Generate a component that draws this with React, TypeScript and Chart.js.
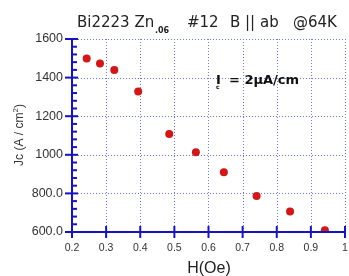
import React, { useEffect, useRef } from "react";
import { Chart, registerables } from "chart.js";

Chart.register(...registerables);

// Data
const fieldH = [0.243, 0.282, 0.324, 0.394, 0.485, 0.563, 0.645, 0.741, 0.839, 0.941];
const jcValues = [1499, 1473, 1440, 1328, 1108, 1013, 910, 787, 706, 609];
const xTickValues = [0.2, 0.3, 0.4, 0.5, 0.6, 0.7, 0.8, 0.9, 1.0];
const xTickLabels = ["0.2", "0.3", "0.4", "0.5", "0.6", "0.7", "0.8", "0.9", "1"];
const yTickValues = [600, 800, 1000, 1200, 1400, 1600];
const yTickLabels = ["600.0", "800.0", "1000", "1200", "1400", "1600"];
const yMinorStep = 40;

const AXIS_BLUE = "#1414c4";
const GRID_BLUE = "#6a78dc";
const TEXT = "#333333";
const DOT_RED = "#d41616";

const decorPlugin = {
  id: "decor",
  beforeDatasetsDraw(chart: any) {
    const { ctx, chartArea, scales } = chart;
    const xs = scales.x;
    const ys = scales.y;
    ctx.save();
    ctx.strokeStyle = GRID_BLUE;
    ctx.lineWidth = 1;
    ctx.setLineDash([1, 2]);
    xTickValues.forEach((v) => {
      const px = Math.round(xs.getPixelForValue(v)) + 0.5;
      ctx.beginPath();
      ctx.moveTo(px, chartArea.top);
      ctx.lineTo(px, chartArea.bottom);
      ctx.stroke();
    });
    yTickValues.forEach((v) => {
      const py = Math.round(ys.getPixelForValue(v)) + 0.5;
      ctx.beginPath();
      ctx.moveTo(chartArea.left, py);
      ctx.lineTo(chartArea.right, py);
      ctx.stroke();
    });
    ctx.restore();
  },
  afterDraw(chart: any) {
    const { ctx, chartArea, scales } = chart;
    const xs = scales.x;
    const ys = scales.y;
    const left = chartArea.left;
    const bottom = chartArea.bottom;
    ctx.save();
    ctx.setLineDash([]);
    ctx.strokeStyle = AXIS_BLUE;
    ctx.lineWidth = 2;
    // axes
    ctx.beginPath();
    ctx.moveTo(left, chartArea.top);
    ctx.lineTo(left, bottom);
    ctx.moveTo(left, bottom);
    ctx.lineTo(chartArea.right, bottom);
    ctx.stroke();
    // y major ticks
    yTickValues.forEach((v) => {
      const py = ys.getPixelForValue(v);
      ctx.beginPath();
      ctx.moveTo(left - 7, py);
      ctx.lineTo(left + 6, py);
      ctx.stroke();
    });
    // y minor ticks
    for (let v = ys.min; v <= ys.max; v += yMinorStep) {
      if (v % 200 === 0) continue;
      const py = ys.getPixelForValue(v);
      ctx.beginPath();
      ctx.moveTo(left, py);
      ctx.lineTo(left + 5, py);
      ctx.stroke();
    }
    // x major ticks
    xTickValues.forEach((v) => {
      const px = xs.getPixelForValue(v);
      ctx.beginPath();
      ctx.moveTo(px, bottom - 6);
      ctx.lineTo(px, bottom + 6);
      ctx.stroke();
    });

    // tick labels
    ctx.fillStyle = TEXT;
    ctx.font = "12.5px 'Liberation Sans', Arial, sans-serif";
    ctx.textAlign = "right";
    ctx.textBaseline = "middle";
    yTickValues.forEach((v, i) => {
      ctx.fillText(yTickLabels[i], left - 9, ys.getPixelForValue(v));
    });
    ctx.font = "10.5px 'Liberation Sans', Arial, sans-serif";
    ctx.textAlign = "center";
    xTickValues.forEach((v, i) => {
      ctx.fillText(xTickLabels[i], xs.getPixelForValue(v), bottom + 16);
    });

    // x title
    ctx.fillStyle = "#222";
    ctx.font = "16px 'Liberation Sans', Arial, sans-serif";
    ctx.textBaseline = "alphabetic";
    ctx.textAlign = "center";
    ctx.fillText("H(Oe)", 209, 273);

    // y title (rotated) with superscript
    ctx.save();
    ctx.translate(23, 135);
    ctx.rotate(-Math.PI / 2);
    ctx.fillStyle = TEXT;
    const f1 = "12px 'Liberation Sans', Arial, sans-serif";
    const f2 = "8px 'Liberation Sans', Arial, sans-serif";
    ctx.font = f1;
    const a = "Jc (A / cm";
    const wa = ctx.measureText(a).width;
    ctx.font = f2;
    const wb = ctx.measureText("2").width;
    ctx.font = f1;
    const wc = ctx.measureText(")").width;
    let x0 = -(wa + wb + wc) / 2;
    ctx.textAlign = "left";
    ctx.fillText(a, x0, 0);
    ctx.font = f2;
    ctx.fillText("2", x0 + wa, -5);
    ctx.font = f1;
    ctx.fillText(")", x0 + wa + wb, 0);
    ctx.restore();

    // chart title with subscript
    ctx.fillStyle = "#222";
    ctx.textAlign = "left";
    ctx.font = "15px 'DejaVu Sans', Verdana, sans-serif";
    ctx.fillText("Bi2223 Zn", 77, 27);
    ctx.font = "bold 8px 'DejaVu Sans', Verdana, sans-serif";
    ctx.fillText(".06", 155, 33);
    ctx.font = "15px 'DejaVu Sans', Verdana, sans-serif";
    ctx.fillText("#12", 187, 27);
    ctx.fillText("B || ab", 230, 27);
    ctx.fillText("@64K", 293, 27);

    // annotation
    const ax = xs.getPixelForValue(0.622);
    const ay = ys.getPixelForValue(1368);
    ctx.fillStyle = "#111";
    ctx.font = "bold 13px 'DejaVu Sans', Verdana, sans-serif";
    ctx.fillText("I", ax, ay);
    ctx.font = "bold 6px 'DejaVu Sans', Verdana, sans-serif";
    ctx.fillText("c", ax, ay + 5);
    ctx.font = "bold 13px 'DejaVu Sans', Verdana, sans-serif";
    ctx.fillText("= 2\u00b5A/cm", ax + 13, ay);
    ctx.restore();
  },
};

export default function App() {
  const ref = useRef<HTMLCanvasElement | null>(null);
  useEffect(() => {
    if (!ref.current) return;
    const chart = new Chart(ref.current, {
      type: "scatter",
      data: {
        datasets: [
          {
            label: "Jc",
            data: fieldH.map((h, i) => ({ x: h, y: jcValues[i] })),
            backgroundColor: DOT_RED,
            borderColor: DOT_RED,
            borderWidth: 0,
            pointRadius: 4,
            pointHoverRadius: 4,
          },
        ],
      },
      options: {
        responsive: false,
        animation: false,
        events: [],
        layout: { padding: { top: 39, right: 4, left: 0, bottom: 0 } },
        plugins: { legend: { display: false }, tooltip: { enabled: false }, title: { display: false } },
        scales: {
          x: {
            type: "linear",
            min: 0.2,
            max: 1.0,
            grid: { display: false },
            border: { display: false },
            ticks: { display: false, stepSize: 0.1 },
            afterFit: (s: any) => {
              s.height = 44;
            },
          },
          y: {
            type: "linear",
            min: 600,
            max: 1600,
            grid: { display: false },
            border: { display: false },
            ticks: { display: false, stepSize: 200 },
            afterFit: (s: any) => {
              s.width = 72;
            },
          },
        },
      },
      plugins: [decorPlugin],
    } as any);
    return () => chart.destroy();
  }, []);
  return (
    <div style={{ position: "fixed", left: 0, top: 0, width: 349, height: 276, background: "#fff" }}>
      <canvas ref={ref} width={349} height={276} />
    </div>
  );
}
